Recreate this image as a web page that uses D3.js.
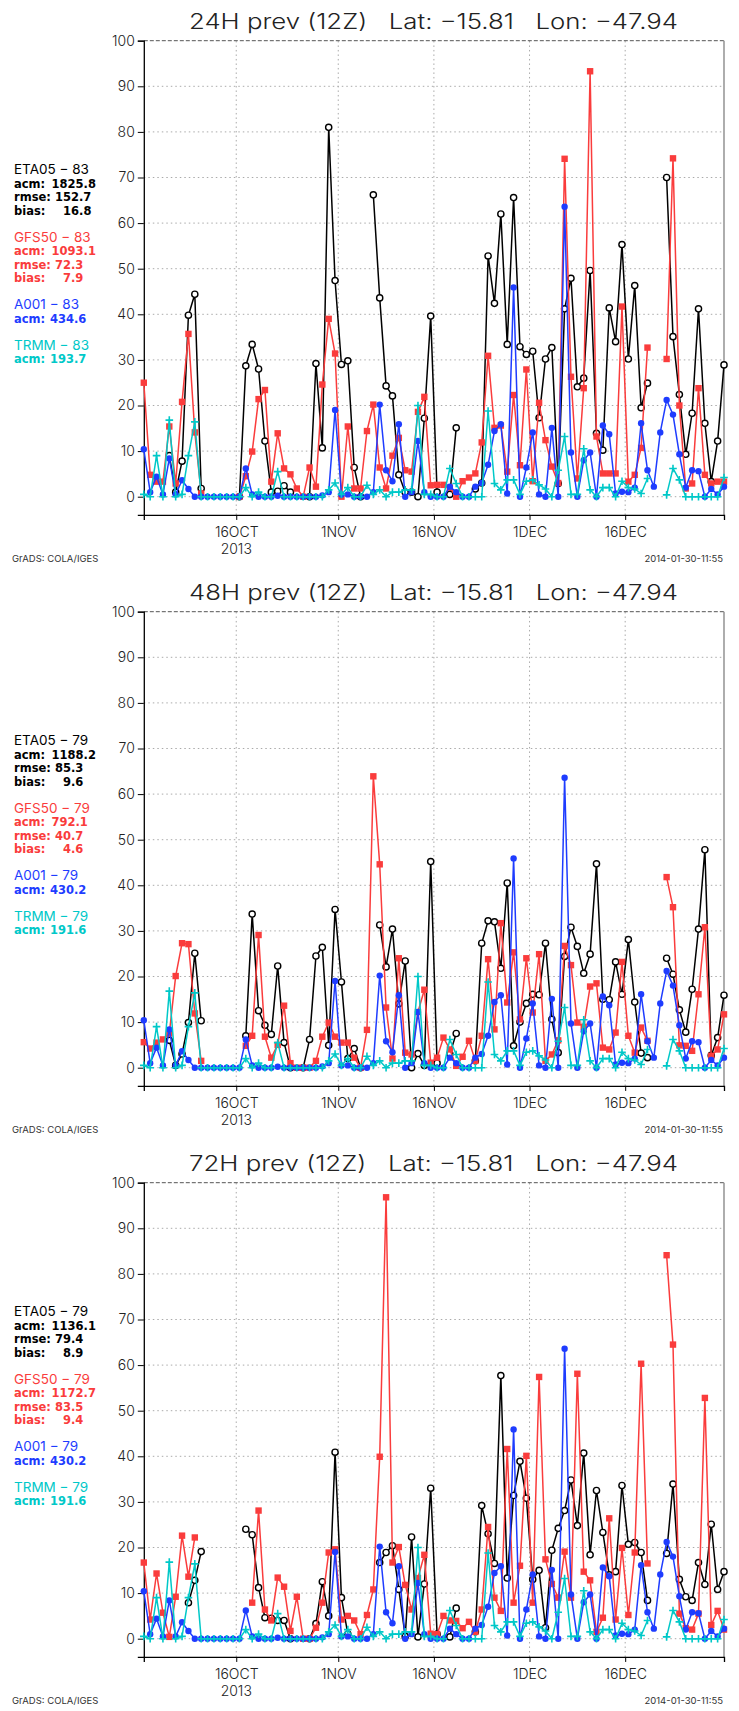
<!DOCTYPE html>
<html><head><meta charset="utf-8">
<script src="https://cdn.jsdelivr.net/npm/d3@7"></script>
<style>
html,body{margin:0;padding:0;background:#fff;}
svg{display:block;}
text{font-family:"DejaVu Sans","Liberation Sans",sans-serif;}
.thin{font-family:"Inter","Open Sans","DejaVu Sans",sans-serif;font-weight:300;}
.reg{font-family:"Inter","Open Sans","DejaVu Sans",sans-serif;font-weight:400;}
</style></head><body>
<svg id="c" width="739" height="1711"></svg>
<script>
// ---------------- DATA ----------------
const startDate = Date.UTC(2013, 9, 1, 12);   // 1 Oct 2013 12Z
const endDate   = Date.UTC(2013, 11, 31, 12); // 31 Dec 2013 12Z
const tickDates = [Date.UTC(2013,9,16), Date.UTC(2013,10,1), Date.UTC(2013,10,16), Date.UTC(2013,11,1), Date.UTC(2013,11,16)];
const tickLabels = ["16OCT", "1NOV", "16NOV", "1DEC", "16DEC"];
const yearLabel = "2013";
const yTicks = [0, 10, 20, 30, 40, 50, 60, 70, 80, 90, 100];
const panelTitles = ["24H prev (12Z)", "48H prev (12Z)", "72H prev (12Z)"];
const latLabel = "Lat: −15.81";
const lonLabel = "Lon: −47.94";
const seriesNames = ["ETA05", "GFS50", "A001", "TRMM"];

const eta24 = [null,null,null,null,9,1,7.8,39.8,44.4,1.8, null,null,null,null,null,0,28.7,33.4,28,12.2,
  1,1.2,2.4,1,null,null,0,29.2,10.7,81, 47.4,29,29.8,6.4,0,null,66.2,43.6,24.3,22.1,
  4.8,1,1,0,17.2,39.6,1,null,0.5,15.1, null,null,1.7,3,52.8,42.4,62,33.4,65.6,32.9,
  31.2,31.9,17.3,30.2,32.7,2.9,41.2,47.9,24.1,26, 49.6,13.9,10.2,41.4,34,55.3,30.2,46.3,19.5,24.9,
  null,null,70,35.1,22.4,9.3,18.3,41.2,16.1,3.3, 12.2,28.9];
const gfs24 = [25,4.8,3.3,3.3,15.4,2.9,20.8,35.7,14.1,0.7, null,null,null,null,null,0,4.5,9.9,21.4,23.4,
  3.3,13.9,6.2,4.9,1.8,0,6.4,2.2,24.6,39, 31.4,0,15.4,1.8,1.8,14.4,20.2,6.4,1.8,9,
  12.9,5.8,5.5,18.6,21.9,2.5,2.6,2.6,2,0, 3.4,4.2,5.1,11.9,30.9,15.1,15.6,5.5,22.3,6.9,
  27.9,3.4,20.6,12.4,6.6,3,74.1,26.3,4,23.8, 93.3,13.2,5.1,5.1,5.1,41.7,3.3,4.8,10.7,32.7,
  null,null,30.2,74.2,20,1.8,2.9,23.8,4.8,2.9, 3.3,3.3];
const eta48 = [null,null,null,null,6,0.5,3,9.9,25.1,10.3, null,null,null,null,null,null,7,33.7,12.5,9.3,
  7.3,22.3,5.5,0,null,0,6.2,24.5,26.4,4.9, 34.7,18.8,2,4.2,0,null,null,31.3,22.1,30.4,
  14,23.4,0,3.1,0.5,45.2,1,null,3,7.5, null,null,1.5,27.3,32.2,32,21.8,40.5,4.8,10,
  14.1,16.1,16,27.3,10.6,3.3,24.4,30.8,26.6,20.7, 24.9,44.7,15,14.9,23.2,16.1,28.1,14.4,3.2,2.2,
  null,null,24,20.5,12.7,7.8,17.2,30.4,47.8,2.7, 6.6,15.9];
const gfs48 = [5.6,4.2,5.5,6.2,7.5,20.1,27.3,27.1,11.9,1.5, null,null,null,null,null,null,4.8,7,29.1,6.8,
  2.2,5,13.6,1,0,0,0,1.5,6.8,9.9, 6.8,5.5,5.5,2.2,0,8.3,63.9,44.6,13.2,2,
  24,3.3,2.9,12.2,17.1,1.1,2.2,6.6,4,0.4, 2.4,5.9,1.5,7,23.8,8.4,31.7,14.3,25.3,10.6,
  24,12.1,24.9,1.5,2.9,6,26.7,22.5,9.9,9, 17.8,18.5,4.4,4,7.7,23.2,7,3.3,8.8,5.9,
  null,null,41.8,35.2,4.9,4.8,3.7,16.1,30.8,2.6, 4,11.7];
const eta72 = [null,null,null,null,null,null,null,7.9,12.8,19.1, null,null,null,null,null,null,24,22.8,11.2,4.6,
  4.5,4,4,0,null,null,0,3.3,12.5,5, 40.9,9,1,null,null,null,null,16.7,18.9,20.4,
  10.8,0.5,22.3,0.4,12,33,1,null,0.4,6.7, null,null,1.5,29.2,23,16.5,57.7,13.3,31.4,38.9,
  30.8,13,15,2.4,19.4,24.2,28.1,34.8,24.8,40.7, 18.4,32.5,23.3,14,14.7,33.6,20.7,21.1,18.9,8.4,
  null,null,18.7,33.9,13,9.2,8.4,16.7,11.9,25.1, 10.8,14.7];
const gfs72 = [16.7,4.2,14.3,5.7,0.4,9.2,22.6,13.6,22.2,null, null,null,null,null,null,null,null,7.9,28.1,6.4,
  4,13.4,11.4,1.7,9.2,0,0,2.4,7.9,18.9, 19.6,4.2,5,4,1,5.2,10.8,39.9,96.8,16.7,
  20.1,11.8,6.4,13.3,18.4,1.1,1,5,4,3.9, 2.3,3.7,1.5,6.4,24.5,9,6.1,41.6,7.9,16,
  40.1,7.9,57.4,17.4,12,9,19.1,9,58.1,14.7, 12.8,1.5,4.6,26.4,4.2,19.9,5.2,18.9,60.3,16.5,
  null,null,84.1,64.5,5.5,2.3,2,5.5,52.8,3, 6.1,2];
const a001 = [10.4,1,4.4,0.5,8.4,0.5,3.6,1.7,0,0, 0,0,0,0,0,0,6.2,0.5,0,0,
  0,0.2,0,0,0,0,0,0,0.3,1, 19,0.5,0.5,0,0,0,1,20.2,5.8,3.4,
  15.9,0,1,12.2,1,0,0,0,2.2,1, 0,0,2.2,3,7,14.4,15.9,0.7,45.9,0,
  6.4,14.1,0.5,0,15.1,0,63.6,9.7,0,8, 9.7,0,15.6,13.7,0.7,1.1,1,2,16.1,5.8,
  2.2,14.1,21.2,18,9.3,2,5.8,5.6,0,1.7, 0.5,2.2];
const trmm = [0.5,0,9,0,16.8,0,0.5,9,16.4,0, 0,0,0,0,0,0,2,0,1,0,
  0,5.5,0,0,0,0,0,0,0,1.5, 3,0.5,2,0,0,2.5,0.5,1.5,0,1,
  1,1.5,1.5,20,0.5,0.5,0,0,6.2,2.9, 0,0,0,0,18.8,2.9,1.5,3.7,3.7,0.5,
  3.4,3.7,2.6,1.7,0,5.8,13.2,0.5,0.5,10.5, 1.5,0,2,2,0,3.4,2,1.7,0.7,4,
  null,null,0.4,6.2,3.7,0,0,0,0,0, 0,4.2];

const etaSeries = [eta24, eta48, eta72];
const gfsSeries = [gfs24, gfs48, gfs72];
const counts = [[83,83,83,83],[79,79,79,79],[79,79,79,79]];
const acm  = [[1825.8,1093.1,434.6,193.7],[1188.2,792.1,430.2,191.6],[1136.1,1172.7,430.2,191.6]];
const rmse = [[152.7,72.3],[85.3,40.7],[79.4,83.5]];
const bias = [[16.8,7.9],[9.6,4.6],[8.9,9.4]];
const footLeft = "GrADS: COLA/IGES";
const footRight = "2014-01-30-11:55";

// ---------------- DRAW ----------------
const svg = d3.select("#c");
const colors = ["#000000", "#fa3c3c", "#1e3cff", "#00c8c8"];
const panelH = 571;
const L = 143.8, R = 724, Y0 = 496.7, Y100 = 40.7;
const ppu = (Y0 - Y100) / 100;
const dayMs = 86400000;

function drawPanel(p) {
  const g = svg.append("g").attr("transform", `translate(0,${p * panelH})`);
  const x = d3.scaleUtc().domain([startDate, endDate]).range([L, R]);
  const y = d3.scaleLinear().domain([-4, 100]).range([Y0 + 4 * ppu, Y100]);
  const dates = d3.range(a001.length).map(i => new Date(startDate + i * dayMs));

  // grid
  g.append("g").selectAll("line").data(yTicks.filter(v => v < 100)).join("line")
    .attr("x1", L).attr("x2", R).attr("y1", d => y(d)).attr("y2", d => y(d))
    .attr("stroke", "#aaaaaa").attr("stroke-width", 1).attr("stroke-dasharray", "1.5,3");
  g.append("g").selectAll("line").data(tickDates).join("line")
    .attr("x1", d => x(d)).attr("x2", d => x(d)).attr("y1", y(-4)).attr("y2", Y100)
    .attr("stroke", "#aaaaaa").attr("stroke-width", 1).attr("stroke-dasharray", "1.5,3");

  // frame
  g.append("line").attr("x1", L).attr("x2", R).attr("y1", Y100).attr("y2", Y100)
    .attr("stroke", "#555").attr("stroke-width", 1).attr("stroke-dasharray", "4,2");
  g.append("line").attr("x1", R).attr("x2", R).attr("y1", Y100).attr("y2", y(-4))
    .attr("stroke", "#777").attr("stroke-width", 1.2);

  // axes
  const yAxis = d3.axisLeft(y).tickValues(yTicks).tickSize(6).tickPadding(3).tickFormat(d3.format("d"));
  const ya = g.append("g").attr("transform", `translate(${L},0)`).call(yAxis);
  ya.select(".domain").attr("stroke", "#000").attr("stroke-width", 1.3);
  ya.selectAll("text").attr("class", "thin").attr("font-size", 14).attr("fill", "#222");
  const xAxis = d3.axisBottom(x).tickValues(tickDates).tickSize(5).tickPadding(7)
    .tickFormat((d, i) => tickLabels[i]);
  const xa = g.append("g").attr("transform", `translate(0,${y(-4)})`).call(xAxis);
  xa.select(".domain").attr("stroke", "#000").attr("stroke-width", 1.3);
  xa.selectAll("text").attr("class", "thin").attr("font-size", 14).attr("fill", "#222");
  g.append("text").attr("class", "thin").attr("x", x(tickDates[0])).attr("y", y(-4) + 39).attr("text-anchor", "middle")
    .attr("font-size", 14).attr("fill", "#222").text(yearLabel);

  // series
  const all = [etaSeries[p], gfsSeries[p], a001, trmm];
  all.forEach((vals, s) => {
    const pts = vals.map((v, i) => ({ d: dates[i], v }));
    const line = d3.line().defined(d => d.v !== null).x(d => x(d.d)).y(d => y(d.v));
    g.append("path").datum(pts).attr("d", line).attr("fill", "none")
      .attr("stroke", colors[s]).attr("stroke-width", 1.5).attr("stroke-linejoin", "round");
    const mk = g.append("g").selectAll("g").data(pts.filter(d => d.v !== null)).join("g")
      .attr("transform", d => `translate(${x(d.d)},${y(d.v)})`);
    if (s === 0) mk.append("circle").attr("r", 3.1).attr("fill", "#fff").attr("stroke", "#000").attr("stroke-width", 1.4);
    if (s === 1) mk.append("rect").attr("x", -3.2).attr("y", -3.2).attr("width", 6.4).attr("height", 6.4).attr("fill", colors[1]);
    if (s === 2) mk.append("circle").attr("r", 3.2).attr("fill", colors[2]);
    if (s === 3) mk.append("path").attr("d", "M-3.8,0H3.8M0,-3.8V3.8").attr("stroke", colors[3]).attr("stroke-width", 1.6);
  });

  // title
  g.append("text").attr("class", "thin").attr("x", 189).attr("y", 29).attr("font-size", 21).attr("fill", "#222")
    .attr("xml:space", "preserve").attr("textLength", 489).attr("lengthAdjust", "spacingAndGlyphs")
    .text(`${panelTitles[p]}   ${latLabel}   ${lonLabel}`);

  // legend
  const lg = g.append("g");
  const head = (yy, s) => lg.append("text").attr("class", "reg").attr("x", 14).attr("y", yy).attr("font-size", 13.5)
    .attr("fill", colors[s]).text(`${seriesNames[s]} − ${counts[p][s]}`);
  const stat = (yy, s, lab, val, vx) => {
    lg.append("text").attr("x", 14).attr("y", yy).attr("font-size", 11.5).attr("font-weight", "bold")
      .attr("fill", colors[s]).text(lab);
    return lg.append("text").attr("x", vx).attr("y", yy).attr("font-size", 11.5).attr("font-weight", "bold")
      .attr("fill", colors[s]).text(val);
  };
  const blocks = [[174, 0], [241.5, 1]];
  blocks.forEach(([yy, s]) => {
    head(yy, s);
    stat(yy + 13.5, s, "acm:", acm[p][s].toFixed(1), 51.5);
    const r = stat(yy + 27, s, "rmse:", rmse[p][s].toFixed(1), 55);
    const rEnd = 55 + r.node().getComputedTextLength();
    stat(yy + 40.5, s, "bias:", bias[p][s].toFixed(1), 0).attr("x", rEnd).attr("text-anchor", "end");
  });
  head(309, 2); stat(322.5, 2, "acm:", acm[p][2].toFixed(1), 50);
  head(349.5, 3); stat(363, 3, "acm:", acm[p][3].toFixed(1), 50);

  // footer
  g.append("text").attr("class", "reg").attr("x", 12).attr("y", 562).attr("font-size", 9.5).attr("fill", "#333").text(footLeft);
  g.append("text").attr("class", "reg").attr("x", 723).attr("y", 562).attr("font-size", 9.5).attr("text-anchor", "end").attr("fill", "#333").text(footRight);
}
[0, 1, 2].forEach(drawPanel);
</script>
</body></html>
